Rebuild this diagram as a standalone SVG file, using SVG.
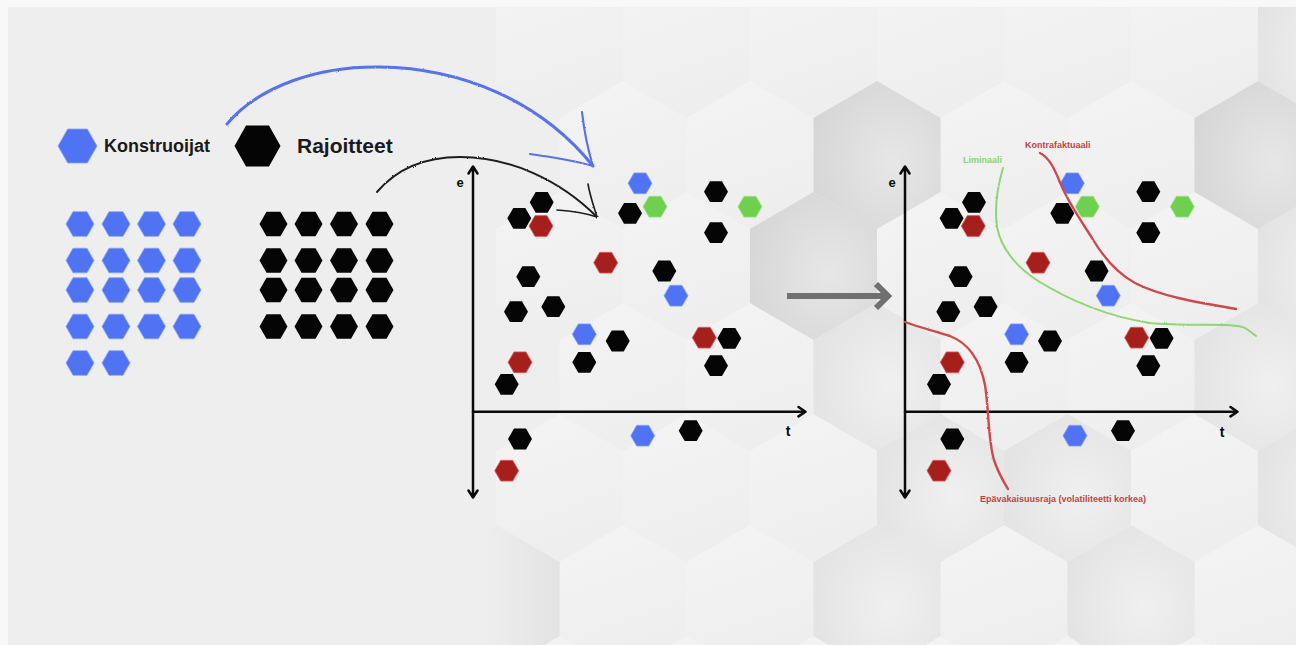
<svg xmlns="http://www.w3.org/2000/svg" xmlns:xlink="http://www.w3.org/1999/xlink" width="1296" height="645" viewBox="0 0 1296 645">
<style>
.k{fill:#050505}
.b{fill:#4f73f2;stroke:#86a2ff;stroke-width:.8}
.r{fill:#a51f1c;stroke:#e35d5d;stroke-width:.8}
.g{fill:#6fcf4f;stroke:#a0e285;stroke-width:.8}
.lbl{font-family:"Liberation Sans",Arial,sans-serif;font-weight:bold;fill:#1a1a1a}
.ax{stroke:#0a0a0a;stroke-width:2.5;fill:none;stroke-linecap:round;stroke-linejoin:round}
.axl{font-family:"Liberation Sans",Arial,sans-serif;font-weight:bold;fill:#0a0a0a;text-anchor:middle}
.note{font-family:"Liberation Sans",Arial,sans-serif;font-weight:bold;font-size:9px}
</style>
<defs>
<polygon id="bh" points="0,-74 63.5,-37 63.5,37 0,74 -63.5,37 -63.5,-37"/>
<polygon id="h" points="-12,0 -6,-10.4 6,-10.4 12,0 6,10.4 -6,10.4"/>
<polygon id="hg" points="-14,0 -7,-12.3 7,-12.3 14,0 7,12.3 -7,12.3"/>
<linearGradient id="gL" x1="0" y1="0" x2="0.3" y2="1">
<stop offset="0" stop-color="#f4f4f4"/><stop offset="1" stop-color="#eeeeee"/>
</linearGradient>
<linearGradient id="gE" x1="0" y1="0" x2="1" y2="0">
<stop offset="0.4" stop-color="#eeeeee"/><stop offset="1" stop-color="#e3e3e3"/>
</linearGradient>
<radialGradient id="gM" cx="0.6" cy="0.55" r="0.7">
<stop offset="0" stop-color="#f0f0f0"/><stop offset="1" stop-color="#e2e2e2"/>
</radialGradient>
<radialGradient id="gD" cx="0.62" cy="0.55" r="0.7">
<stop offset="0" stop-color="#e7e7e7"/><stop offset="1" stop-color="#d5d5d5"/>
</radialGradient>
<filter id="rough" filterUnits="userSpaceOnUse" x="0" y="0" width="1296" height="645">
<feTurbulence type="fractalNoise" baseFrequency="0.8" numOctaves="2" seed="4"/>
<feDisplacementMap in="SourceGraphic" scale="2"/>
</filter>
</defs>

<g id="background">
<rect x="0" y="0" width="1296" height="645" fill="#eeeeee"/>
<g fill="url(#gL)">
<use href="#bh" x="559.5" y="44"/><use href="#bh" x="686.5" y="44"/><use href="#bh" x="813.5" y="44"/><use href="#bh" x="940.5" y="44"/><use href="#bh" x="1067.5" y="44"/><use href="#bh" x="1194.5" y="44"/>
<use href="#bh" x="623" y="155"/><use href="#bh" x="750" y="155"/><use href="#bh" x="1004" y="155"/><use href="#bh" x="1131" y="155"/>
<use href="#bh" x="559.5" y="266"/><use href="#bh" x="686.5" y="266"/><use href="#bh" x="940.5" y="266"/><use href="#bh" x="1067.5" y="266"/><use href="#bh" x="1194.5" y="266"/>
<use href="#bh" x="623" y="377"/><use href="#bh" x="750" y="377"/><use href="#bh" x="1004" y="377"/><use href="#bh" x="1131" y="377"/>
<use href="#bh" x="559.5" y="488"/><use href="#bh" x="686.5" y="488"/><use href="#bh" x="813.5" y="488"/><use href="#bh" x="1194.5" y="488"/>
<use href="#bh" x="623" y="599"/><use href="#bh" x="750" y="599"/><use href="#bh" x="1004" y="599"/><use href="#bh" x="1258" y="599"/>
<use href="#bh" x="559.5" y="710"/><use href="#bh" x="686.5" y="710"/><use href="#bh" x="813.5" y="710"/><use href="#bh" x="940.5" y="710"/><use href="#bh" x="1067.5" y="710"/><use href="#bh" x="1194.5" y="710"/>
</g>
<use href="#bh" x="496" y="599" fill="url(#gE)"/>
<g fill="url(#gM)">
<use href="#bh" x="1321.5" y="44"/><use href="#bh" x="1321.5" y="266"/>
<use href="#bh" x="877" y="377"/><use href="#bh" x="1258" y="377"/>
<use href="#bh" x="940.5" y="488"/><use href="#bh" x="1067.5" y="488"/><use href="#bh" x="1321.5" y="488"/>
<use href="#bh" x="877" y="599"/><use href="#bh" x="1131" y="599"/>
</g>
<g fill="url(#gD)">
<use href="#bh" x="877" y="155"/><use href="#bh" x="1258" y="155"/><use href="#bh" x="813.5" y="266"/>
</g>
<rect x="0" y="0" width="1296" height="7" fill="#f8f8f8"/>
<rect x="0" y="0" width="8" height="645" fill="#f8f8f8"/>
</g>

<g id="legend-konstruoijat">
<polygon class="b" points="58,146 67.7,129 87.3,129 97,146 87.3,163 67.7,163" stroke="none"/>
<text class="lbl" x="104" y="152" font-size="18">Konstruoijat</text>
</g>
<g id="legend-rajoitteet">
<polygon class="k" points="234.5,146 246,125.5 269,125.5 280.5,146 269,166.5 246,166.5"/>
<text class="lbl" x="297" y="153" font-size="21">Rajoitteet</text>
</g>

<g id="grid-konstruoijat" class="b" stroke="none">
<use href="#hg" x="80" y="224"/><use href="#hg" x="116" y="224"/><use href="#hg" x="151.5" y="224"/><use href="#hg" x="187" y="224"/>
<use href="#hg" x="80" y="260.5"/><use href="#hg" x="116" y="260.5"/><use href="#hg" x="151.5" y="260.5"/><use href="#hg" x="187" y="260.5"/>
<use href="#hg" x="80" y="290"/><use href="#hg" x="116" y="290"/><use href="#hg" x="151.5" y="290"/><use href="#hg" x="187" y="290"/>
<use href="#hg" x="80" y="326.5"/><use href="#hg" x="116" y="326.5"/><use href="#hg" x="151.5" y="326.5"/><use href="#hg" x="187" y="326.5"/>
<use href="#hg" x="80" y="363"/><use href="#hg" x="116" y="363"/>
</g>
<g id="grid-rajoitteet" class="k">
<use href="#hg" x="273.5" y="224"/><use href="#hg" x="308.5" y="224"/><use href="#hg" x="344" y="224"/><use href="#hg" x="379.5" y="224"/>
<use href="#hg" x="273.5" y="260.5"/><use href="#hg" x="308.5" y="260.5"/><use href="#hg" x="344" y="260.5"/><use href="#hg" x="379.5" y="260.5"/>
<use href="#hg" x="273.5" y="290"/><use href="#hg" x="308.5" y="290"/><use href="#hg" x="344" y="290"/><use href="#hg" x="379.5" y="290"/>
<use href="#hg" x="273.5" y="326.5"/><use href="#hg" x="308.5" y="326.5"/><use href="#hg" x="344" y="326.5"/><use href="#hg" x="379.5" y="326.5"/>
</g>

<g id="chart-before">
<g id="chart-before-axes">
<path class="ax" d="M473,167 V497 M468.5,173.5 L473,166.5 L477.5,173.5 M468.5,490.5 L473,497.5 L477.5,490.5"/>
<path class="ax" d="M473,411.7 H805 M798.5,407 L805.5,411.7 L798.5,416.4"/>
<text class="axl" x="460" y="187" font-size="13">e</text>
<text class="axl" x="788" y="436" font-size="14">t</text>
</g>
<g id="chart-before-points">
<use href="#h" class="k" x="541.7" y="202.3"/>
<use href="#h" class="k" x="519.3" y="218.3"/>
<use href="#h" class="r" x="541" y="226"/>
<use href="#h" class="b" x="640" y="183.3"/>
<use href="#h" class="k" x="630" y="213.3"/>
<use href="#h" class="g" x="655" y="206.7"/>
<use href="#h" class="k" x="716" y="191.7"/>
<use href="#h" class="g" x="750" y="206.7"/>
<use href="#h" class="k" x="716" y="232.7"/>
<use href="#h" class="r" x="605.7" y="262.7"/>
<use href="#h" class="k" x="664.3" y="271"/>
<use href="#h" class="b" x="676" y="295.7"/>
<use href="#h" class="k" x="528.3" y="276.7"/>
<use href="#h" class="k" x="516" y="311.7"/>
<use href="#h" class="k" x="553.3" y="306.7"/>
<use href="#h" class="b" x="584.3" y="334.3"/>
<use href="#h" class="k" x="617.7" y="341"/>
<use href="#h" class="k" x="584.3" y="362.3"/>
<use href="#h" class="r" x="704.3" y="337.7"/>
<use href="#h" class="k" x="729.3" y="338.3"/>
<use href="#h" class="k" x="716" y="365.7"/>
<use href="#h" class="k" x="506.7" y="384.3"/>
<use href="#h" class="r" x="520" y="362.3"/>
<use href="#h" class="k" x="520" y="439"/>
<use href="#h" class="r" x="506.7" y="470.7"/>
<use href="#h" class="b" x="642.7" y="435.7"/>
<use href="#h" class="k" x="690.7" y="430.7"/>
</g>
</g>

<g id="chart-after">
<g id="chart-after-axes">
<path class="ax" d="M905,167 V497 M900.5,173.5 L905,166.5 L909.5,173.5 M900.5,490.5 L905,497.5 L909.5,490.5"/>
<path class="ax" d="M905,411.7 H1237 M1230.5,407 L1237.5,411.7 L1230.5,416.4"/>
<text class="axl" x="892" y="187" font-size="13">e</text>
<text class="axl" x="1222" y="437" font-size="14">t</text>
</g>
<g id="chart-after-points">
<use href="#h" class="k" x="974" y="202.3"/>
<use href="#h" class="k" x="951.6" y="218.3"/>
<use href="#h" class="r" x="973.3" y="226"/>
<use href="#h" class="b" x="1072.3" y="183.3"/>
<use href="#h" class="k" x="1062.3" y="213.3"/>
<use href="#h" class="g" x="1087.3" y="206.7"/>
<use href="#h" class="k" x="1148.3" y="191.7"/>
<use href="#h" class="g" x="1182.3" y="206.7"/>
<use href="#h" class="k" x="1148.3" y="232.7"/>
<use href="#h" class="r" x="1038" y="262.7"/>
<use href="#h" class="k" x="1096.6" y="271"/>
<use href="#h" class="b" x="1108.3" y="295.7"/>
<use href="#h" class="k" x="960.6" y="276.7"/>
<use href="#h" class="k" x="948.3" y="311.7"/>
<use href="#h" class="k" x="985.6" y="306.7"/>
<use href="#h" class="b" x="1016.6" y="334.3"/>
<use href="#h" class="k" x="1050" y="341"/>
<use href="#h" class="k" x="1016.6" y="362.3"/>
<use href="#h" class="r" x="1136.6" y="337.7"/>
<use href="#h" class="k" x="1161.6" y="338.3"/>
<use href="#h" class="k" x="1148.3" y="365.7"/>
<use href="#h" class="k" x="939" y="384.3"/>
<use href="#h" class="r" x="952.3" y="362.3"/>
<use href="#h" class="k" x="952.3" y="439"/>
<use href="#h" class="r" x="939" y="470.7"/>
<use href="#h" class="b" x="1075" y="435.7"/>
<use href="#h" class="k" x="1123" y="430.7"/>
</g>
<g id="boundaries" fill="none" stroke-linecap="round" filter="url(#rough)">
<path id="kontrafaktuaali" stroke="#cf4a4c" stroke-width="2.4" d="M1040,153 C1050,158 1055,170 1062,187 C1070,205 1082,222 1092,238 C1102,255 1115,272 1135,283 C1160,296 1195,302 1236,309"/>
<path id="liminaali" stroke="#8fd672" stroke-width="2" d="M1003,168 C998,185 994,205 997,227 C1001,248 1015,265 1035,279 C1065,298 1105,316 1150,323 C1190,327 1235,322 1245,328 C1250,331 1253,334 1256,336"/>
<path id="epavakaisuusraja" stroke="#cf4a4c" stroke-width="2.4" d="M905,322 C918,327 935,331 950,336 C968,343 980,360 985,385 C989,410 988,440 994,460 C999,475 1004,482 1008,489"/>
</g>
<text class="note" x="1025" y="148" fill="#c9403f">Kontrafaktuaali</text>
<text class="note" x="963" y="163" fill="#8ed070">Liminaali</text>
<text class="note" x="980" y="502" fill="#c9403f" font-size="8.5">Epävakaisuusraja (volatiliteetti korkea)</text>
</g>

<g id="connectors" fill="none" stroke-linecap="round" stroke-linejoin="round">
<g id="arrow-konstruoijat" stroke="#5872ea" stroke-width="3" filter="url(#rough)">
<path d="M227,124 C260,85 320,66 380,67 C460,68 540,100 593,166"/>
<path d="M582,112 C584,130 588,150 593,166 M530,154 C552,157 572,160 593,166" stroke-width="2.2"/>
</g>
<g id="arrow-rajoitteet" stroke="#1e1e1e" stroke-width="2" filter="url(#rough)">
<path d="M377,192 C400,165 430,157 460,157 C510,157 560,180 597,217"/>
<path d="M588,184 C590,196 594,207 597,217 M557,210 C572,211 585,213 597,217" stroke-width="1.6"/>
</g>
<g id="arrow-transform" stroke="#707070" stroke-width="6" stroke-linecap="butt" stroke-linejoin="miter">
<path d="M787,296 H886"/>
<path d="M876,284 L888,296 L876,308"/>
</g>
</g>
</svg>
